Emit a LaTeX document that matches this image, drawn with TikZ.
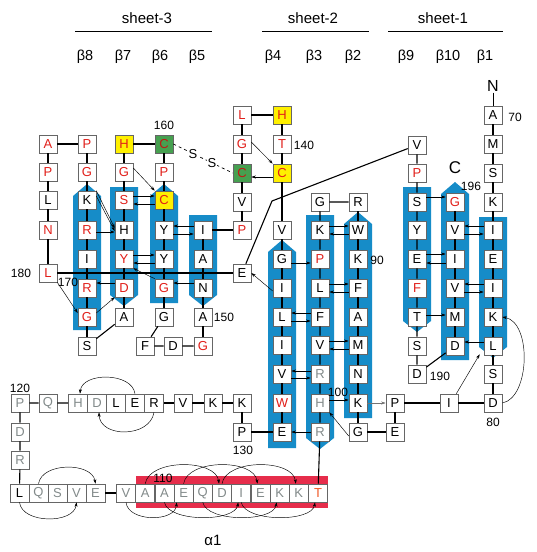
\documentclass[tikz,border=0pt]{standalone}
\usepackage{fontspec}
\setmainfont{Liberation Sans}
\usetikzlibrary{arrows.meta,calc}
\definecolor{bandblue}{RGB}{22,140,200}
\definecolor{helixred}{RGB}{230,45,75}
\definecolor{resred}{RGB}{225,30,25}
\definecolor{resgray}{RGB}{130,138,138}
\definecolor{ssgreen}{RGB}{70,160,80}
\definecolor{ssyellow}{RGB}{255,240,0}
\definecolor{tor}{RGB}{240,90,40}
\newcommand\bandU[3]{\fill[bandblue] (#1-14,#3) -- (#1-14,#2+12) -- (#1,#2) -- (#1+14,#2+12) -- (#1+14,#3) -- cycle;}
\newcommand\bandD[3]{\fill[bandblue] (#1-14,#2) -- (#1+14,#2) -- (#1+14,#3-11) -- (#1,#3) -- (#1-14,#3-11) -- cycle;}
\begin{document}
\begin{tikzpicture}[x=1pt,y=-1pt,
  res/.style={draw=black!60, fill=white, minimum width=18pt, minimum height=18pt, inner sep=0pt, font=\fontsize{13}{15}\selectfont, line width=0.6pt},
  rr/.style={res, text=resred},
  rg/.style={res, text=resgray},
  yl/.style={res, fill=ssyellow, text=resred},
  gn/.style={res, fill=ssgreen, text=resred!85!black},
  hx/.style={minimum width=19pt},
  bb/.style={line width=1.1pt},
  hb/.style={line width=0.45pt, -{Stealth[length=4.5pt,width=3pt]}},
  num/.style={font=\fontsize{12}{14}\selectfont, inner sep=0pt},
  ttl/.style={font=\fontsize{15}{17}\selectfont, inner sep=0pt},
  blab/.style={font=\fontsize{14.5}{17}\selectfont, inner sep=0pt},
  rule/.style={line width=0.8pt}
]
\useasboundingbox (0,0) rectangle (536,552);
\fill[white] (0,0) rectangle (536,552);

% header
\node[ttl] (h3t) at (147,18) {sheet-3};
\node[ttl] (h2t) at (313,18) {sheet-2};
\node[ttl] (h1t) at (443,18) {sheet-1};
\coordinate (r3a) at (75,31); \coordinate (r3b) at (212,31);
\coordinate (r2a) at (262,31); \coordinate (r2b) at (369,31);
\coordinate (r1a) at (388,31); \coordinate (r1b) at (503,31);
\draw[rule] (r3a) -- (r3b); \draw[rule] (r2a) -- (r2b); \draw[rule] (r1a) -- (r1b);
\node[blab] (lb8) at (85,57) {β8};
\node[blab] (lb7) at (123,57) {β7};
\node[blab] (lb6) at (160,57) {β6};
\node[blab] (lb5) at (197,57) {β5};
\node[blab] (lb4) at (273,57) {β4};
\node[blab] (lb3) at (314,57) {β3};
\node[blab] (lb2) at (353,57) {β2};
\node[blab] (lb9) at (406,57) {β9};
\node[blab] (lb10) at (448,57) {β10};
\node[blab] (lb1) at (485,57) {β1};

% strands
\bandU{87}{184}{330}
\bandD{124}{187}{306}
\bandU{164}{184}{303}
\bandD{203}{215}{306}
\bandU{282}{240}{448}
\bandD{320}{215}{449}
\bandU{358}{212}{418}
\bandD{417}{187}{332}
\bandU{455}{182}{360}
\bandD{493}{217}{358}
% helix
\fill[helixred] (136,476) rectangle (328,508);

% column a
\node[rr] (a1) at (48,144) {A};
\node[rr] (a2) at (48,172) {P};
\node[res] (a3) at (48,200) {L};
\node[rr] (a4) at (48,230) {N};
\node[rr] (a5) at (48,273) {L};
% column b
\node[rr] (b1) at (87,144) {P};
\node[rr] (b2) at (87,172) {G};
\node[res] (b3) at (87,200) {K};
\node[rr] (b4) at (87,230) {R};
\node[res] (b5) at (87,259) {I};
\node[rr] (b6) at (87,288) {R};
\node[rr] (b7) at (87,317) {G};
\node[res] (b8) at (87,346) {S};
% column c
\node[yl] (c1) at (124,144) {H};
\node[rr] (c2) at (124,172) {G};
\node[rr] (c3) at (124,200) {S};
\node[res] (c4) at (124,230) {H};
\node[rr] (c5) at (124,259) {Y};
\node[rr] (c6) at (124,288) {D};
\node[res] (c7) at (124,317) {A};
% column d
\node[gn] (d1) at (164,144) {C};
\node[rr] (d2) at (164,172) {P};
\node[yl] (d3) at (164,200) {C};
\node[res] (d4) at (164,230) {Y};
\node[res] (d5) at (164,259) {Y};
\node[rr] (d6) at (164,288) {G};
\node[res] (d7) at (164,317) {G};
% column e
\node[res] (e1) at (203,230) {I};
\node[res] (e2) at (203,259) {A};
\node[res] (e3) at (203,288) {N};
\node[res] (e4) at (203,317) {A};
\node[rr] (e5) at (203,346) {G};
\node[res] (f1) at (145,346) {F};
\node[res] (f2) at (173,346) {D};
% column g
\node[rr] (g1) at (242,115) {L};
\node[rr] (g2) at (242,144) {G};
\node[gn] (g3) at (242,173) {C};
\node[res] (g4) at (242,202) {V};
\node[rr] (g5) at (242,230) {P};
\node[res] (g6) at (242,273) {E};
% column h
\node[yl] (h1) at (282,115) {H};
\node[rr] (h2) at (282,144) {T};
\node[yl] (h3) at (282,173) {C};
\node[res] (h4) at (282,230) {V};
\node[res] (h5) at (282,259) {G};
\node[res] (h6) at (282,288) {I};
\node[res] (h7) at (282,317) {L};
\node[res] (h8) at (282,345) {I};
\node[res] (h9) at (282,374) {V};
\node[rr] (h10) at (282,403) {W};
\node[res] (h11) at (282,432) {E};
% column i
\node[res] (i1) at (320,202) {G};
\node[res] (i2) at (320,230) {K};
\node[rr] (i3) at (320,259) {P};
\node[res] (i4) at (320,288) {L};
\node[res] (i5) at (320,317) {F};
\node[res] (i6) at (320,345) {V};
\node[rg] (i7) at (320,374) {R};
\node[rg] (i8) at (320,403) {H};
\node[rg] (i9) at (320,432) {R};
% column j
\node[res] (j1) at (358,202) {R};
\node[res] (j2) at (358,230) {W};
\node[res] (j3) at (358,259) {K};
\node[res] (j4) at (358,288) {F};
\node[res] (j5) at (358,317) {A};
\node[res] (j6) at (358,345) {M};
\node[res] (j7) at (358,374) {N};
\node[res] (j8) at (358,403) {K};
\node[res] (j9) at (358,432) {G};
\node[res] (k1) at (395,403) {P};
\node[res] (k2) at (395,432) {E};
\node[res] (k3) at (449,403) {I};
% column l
\node[res] (l1) at (417,145) {V};
\node[rr] (l2) at (417,173) {P};
\node[res] (l3) at (417,202) {S};
\node[res] (l4) at (417,230) {Y};
\node[res] (l5) at (417,259) {E};
\node[rr] (l6) at (417,288) {F};
\node[res] (l7) at (417,317) {T};
\node[res] (l8) at (417,346) {S};
\node[res] (l9) at (417,374) {D};
% column m
\node[rr] (m1) at (455,202) {G};
\node[res] (m2) at (455,230) {V};
\node[res] (m3) at (455,259) {I};
\node[res] (m4) at (455,288) {V};
\node[res] (m5) at (455,317) {M};
\node[res] (m6) at (455,346) {D};
% column n
\node[res] (n1) at (493,115) {A};
\node[res] (n2) at (493,144) {M};
\node[res] (n3) at (493,173) {S};
\node[res] (n4) at (493,202) {K};
\node[res] (n5) at (493,230) {I};
\node[res] (n6) at (493,259) {E};
\node[res] (n7) at (493,288) {I};
\node[res] (n8) at (493,317) {K};
\node[res] (n9) at (493,346) {L};
\node[res] (n10) at (493,374) {S};
\node[res] (n11) at (493,403) {D};
% loop row
\node[rg] (p1) at (20,403) {P};
\node[rg] (p2) at (48,403) {Q};
\node[rg,hx] (p3) at (78,403) {H};
\node[rg,hx] (p4) at (97,403) {D};
\node[res,hx] (p5) at (116,403) {L};
\node[res,hx] (p6) at (135,403) {E};
\node[res,hx] (p7) at (154,403) {R};
\node[res] (p8) at (183,403) {V};
\node[res] (p9) at (213,403) {K};
\node[res] (p10) at (242,403) {K};
\node[res] (p11) at (242,432) {P};
\node[rg] (q1) at (20,432) {D};
\node[rg] (q2) at (20,460) {R};
% helix row
\node[res,hx] (s1) at (19.5,493) {L};
\node[rg,hx] (s2) at (38.5,493) {Q};
\node[rg,hx] (s3) at (57.5,493) {S};
\node[rg,hx] (s4) at (76.5,493) {V};
\node[rg,hx] (s5) at (95.5,493) {E};
\node[rg,hx] (t0) at (126,493) {V};
\node[rg,hx] (t1) at (145.2,493) {A};
\node[rg,hx] (t2) at (164.4,493) {A};
\node[rg,hx] (t3) at (183.6,493) {E};
\node[rg,hx] (t4) at (202.8,493) {Q};
\node[rg,hx] (t5) at (222,493) {D};
\node[rg,hx] (t6) at (241.2,493) {I};
\node[rg,hx] (t7) at (260.4,493) {E};
\node[rg,hx] (t8) at (279.6,493) {K};
\node[rg,hx] (t9) at (298.8,493) {K};
\node[res,hx,text=tor] (t10) at (318,493) {T};

% termini and numbers
\node[font=\fontsize{16}{18}\selectfont, inner sep=1pt] (Nt) at (493,86) {N};
\node[font=\fontsize{17}{19}\selectfont, inner sep=0pt] (Ct) at (455,168) {C};
\node[num] (l70) at (515,117) {70};
\node[num] (l160) at (164,125) {160};
\node[num] (l140) at (304,145) {140};
\node[num] (l90) at (377,260) {90};
\node[num] (l180) at (21,273) {180};
\node[num] (l170) at (68,282) {170};
\node[num] (l150) at (224,317) {150};
\node[num] (l196) at (471,186) {196};
\node[num] (l190) at (440,376) {190};
\node[num] (l100) at (338,392) {100};
\node[num] (l80) at (493,422) {80};
\node[num] (l120) at (20,388) {120};
\node[num] (l130) at (243,450) {130};
\node[num] (l110) at (163,478) {110};
\node[font=\fontsize{15}{17}\selectfont, inner sep=0pt] (alpha) at (213,540) {α1};

% backbone
\draw[bb] (a1)--(a2)--(a3)--(a4)--(a5);
\draw[bb] (a1)--(b1);
\draw[bb] (b1)--(b2)--(b3)--(b4)--(b5)--(b6)--(b7)--(b8);
\draw[bb] (b8)--(c7);
\draw[bb] (c1)--(c2)--(c3)--(c4)--(c5)--(c6)--(c7);
\draw[bb] (c1)--(d1);
\draw[bb] (d1)--(d2)--(d3)--(d4)--(d5)--(d6)--(d7);
\draw[bb] (d7)--(f1)--(f2)--(e5);
\draw[bb] (e5)--(e4)--(e3)--(e2)--(e1)--(g5);
\draw[bb] (g5)--(g4)--(g3)--(g2)--(g1)--(h1);
\draw[bb] (h1)--(h2)--(h3)--(h4)--(h5)--(h6)--(h7)--(h8)--(h9)--(h10)--(h11);
\draw[bb] (h11)--(p11)--(p10)--(p9)--(p8)--(p7);
\draw[bb] (p3)--(p2)--(p1)--(q1)--(q2)--(s1);
\draw[bb] (s5)--(t0);
\draw[bb] (t10)--(i9)--(i8)--(i7)--(i6)--(i5)--(i4)--(i3)--(i2)--(i1)--(j1);
\draw[bb] (j1)--(j2)--(j3)--(j4)--(j5)--(j6)--(j7)--(j8)--(j9)--(k2)--(k1)--(k3)--(n11);
\draw[bb] (n11)--(n10)--(n9)--(n8)--(n7)--(n6)--(n5)--(n4)--(n3)--(n2)--(n1);
\draw[line width=0.8pt] (Nt)--(n1);
\draw[line width=1.6pt] (a5)--(g6);
\coordinate (bend) at (272,201);
\draw[bb] (g6)--(bend)--(l1);
\draw[bb] (l1)--(l2)--(l3)--(l4)--(l5)--(l6)--(l7)--(l8)--(l9)--(m6);
\draw[bb] (m6)--(m5)--(m4)--(m3)--(m2)--(m1);

% disulfide
\draw[line width=0.7pt, dash pattern=on 3pt off 3pt] (d1.east)--(g3.west);
\node[fill=white, inner sep=0.6pt, font=\fontsize{13}{15}\selectfont] (ss1) at (193,154) {S};
\node[fill=white, inner sep=0.6pt, font=\fontsize{13}{15}\selectfont] (ss2) at (212,163) {S};

% H-bonds sheet 3
\draw[hb] (b3.north east) -- ([yshift=2pt]c4.west);
\draw[hb] ([yshift=4pt]b3.east) -- ([yshift=-1pt]c4.west);
\draw[hb] ([yshift=-2pt]b4.east) -- ([yshift=-2pt]c4.west);
\draw[hb] ([yshift=4pt]c2.east) -- (d3.north west);
\draw[hb] ([yshift=4pt]c3.east) -- ([yshift=4pt]d3.west);
\draw[hb] ([yshift=-4pt]d3.west) -- ([yshift=-4pt]c3.east);
\draw[hb] ([yshift=4pt]e1.west) -- ([yshift=4pt]d4.east);
\draw[hb] ([yshift=-4pt]d4.east) -- ([yshift=-4pt]e1.west);
\draw[hb] ([yshift=4pt]c5.east) -- ([yshift=4pt]d5.west);
\draw[hb] ([yshift=-4pt]d5.west) -- ([yshift=-4pt]c5.east);
\draw[hb] ([yshift=5pt]c6.west) -- ([yshift=5pt]b6.east);
\draw[hb] (d6.north west) -- (c5.south east);
\draw[hb] ([yshift=5pt]e3.west) -- ([yshift=5pt]d6.east);
\draw[hb] ([yshift=4pt]b7.east) -- (c6.south west);
\draw[hb] (a5.south east) -- ([yshift=4pt]b7.west);
% sheet 2
\draw[hb] ([yshift=2pt]g2.east) -- (h3.north west);
\draw[hb] ([yshift=-4pt]h3.west) -- ([yshift=-4pt]g3.east);
\draw[hb] ([yshift=4pt]i2.east) -- ([yshift=4pt]j2.west);
\draw[hb] ([yshift=-4pt]j2.west) -- ([yshift=-4pt]i2.east);
\draw[hb] ([yshift=-4pt]h5.east) -- ([yshift=-4pt]i3.west);
\draw[hb] ([yshift=-3pt]h6.west) -- (g6.east);
\draw[hb] ([yshift=4pt]i4.east) -- ([yshift=4pt]j4.west);
\draw[hb] ([yshift=-4pt]j4.west) -- ([yshift=-4pt]i4.east);
\draw[hb] ([yshift=4pt]i5.west) -- ([yshift=4pt]h7.east);
\draw[hb] ([yshift=-4pt]h7.east) -- ([yshift=-4pt]i5.west);
\draw[hb] ([yshift=4pt]i6.east) -- ([yshift=4pt]j6.west);
\draw[hb] ([yshift=-4pt]j6.west) -- ([yshift=-4pt]i6.east);
\draw[hb] ([yshift=3pt]i7.west) -- ([yshift=3pt]h9.east);
\draw[hb] ([yshift=-4pt]h9.east) -- ([yshift=-4pt]i7.west);
\draw[hb] ([yshift=3pt]i8.east) -- ([yshift=3pt]j8.west);
\draw[hb, draw=black!55] (j8.east) -- (k1.west);
\draw[hb] (i9.west) -- (h11.east);
\draw[hb] ([yshift=-4pt]j9.west) -- (i8.south east);
% sheet 1
\draw[hb] ([yshift=5pt]l3.east) -- ([yshift=5pt]m1.west);
\draw[hb] ([yshift=4pt]n5.west) -- ([yshift=4pt]m2.east);
\draw[hb] ([yshift=-4pt]m2.east) -- ([yshift=-4pt]n5.west);
\draw[hb] ([yshift=5pt]l5.east) -- ([yshift=5pt]m3.west);
\draw[hb] ([yshift=-4pt]m3.west) -- ([yshift=-4pt]l5.east);
\draw[hb] ([yshift=4pt]n7.west) -- ([yshift=4pt]m4.east);
\draw[hb] ([yshift=-4pt]m4.east) -- ([yshift=-4pt]n7.west);
\draw[hb] ([yshift=2pt]l7.east) -- ([yshift=2pt]m5.west);
\draw[hb] ([yshift=4pt]n9.west) -- ([yshift=4pt]m6.east);
\draw[hb] ([xshift=-2pt]k3.north east) -- ([xshift=-4pt,yshift=1pt]n9.south west);
\draw[hb] (n11.east) .. controls (530,398) and (532,322) .. (n8.east);
% loop curves
\draw[hb] (p6.north) .. controls (132,372) and (82,372) .. ([xshift=2pt]p3.north);
\draw[hb] (p7.south) .. controls (150,438) and (100,438) .. ([xshift=2pt]p4.south);
\draw[hb] (s2.north) .. controls (42,462) and (92,462) .. (s5.north);
\draw[hb] (s1.south) .. controls (22,524) and (74,524) .. (s4.south);
% helix i->i+4 arcs
\draw[hb] (t1.north) .. controls ($(t1.north)+(4,-25)$) and ($(t5.north)+(-6,-25)$) .. ([xshift=-3pt]t5.north);
\draw[hb] (t3.north) .. controls ($(t3.north)+(4,-25)$) and ($(t7.north)+(-6,-25)$) .. ([xshift=-3pt]t7.north);
\draw[hb] (t5.north) .. controls ($(t5.north)+(4,-25)$) and ($(t9.north)+(-6,-25)$) .. ([xshift=-3pt]t9.north);
\draw[hb] (t0.south) .. controls ($(t0.south)+(2,20)$) and ($(t3.south)+(-8,20)$) .. ([xshift=-7pt]t3.south);
\draw[hb] (t2.south) .. controls ($(t2.south)+(4,20)$) and ($(t6.south)+(-6,20)$) .. ([xshift=-3pt]t6.south);
\draw[hb] (t4.south) .. controls ($(t4.south)+(4,20)$) and ($(t8.south)+(-6,20)$) .. ([xshift=-3pt]t8.south);
\draw[hb] (t6.south) .. controls ($(t6.south)+(4,20)$) and ($(t10.south)+(-6,20)$) .. ([xshift=-3pt]t10.south);
\end{tikzpicture}
\end{document}
